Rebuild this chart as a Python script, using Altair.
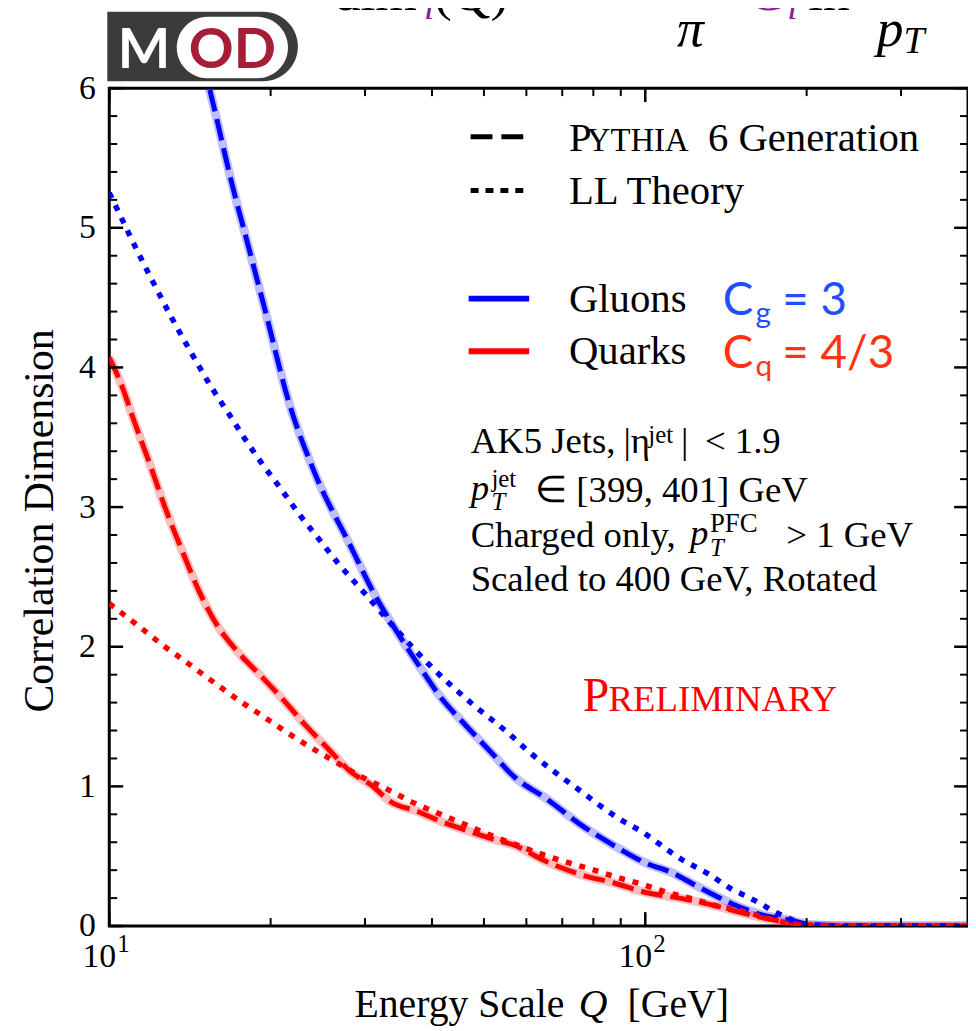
import altair as alt
import pandas as pd

# ---------------- data ----------------
q_gluon_pythia = [14.5, 15.8, 16.9, 18.2, 19.5, 21.6, 24.2, 28.2, 31.3, 34.5, 37.6, 41.5, 45.9, 51.4,
                  56.9, 65.5, 75.5, 87.1, 100.4, 112.5, 124.3, 149.3, 165.2, 184.9, 204.6, 250, 300, 400]
dim_gluon_pythia = [6.4, 5.81, 5.33, 4.86, 4.42, 3.76, 3.24, 2.72, 2.37, 2.10, 1.88, 1.64, 1.45, 1.25,
                    1.07, 0.91, 0.73, 0.58, 0.45, 0.38, 0.29, 0.14, 0.08, 0.045, 0.01, 0, 0, 0]

q_gluon_ll = [10, 10.6, 11.0, 12.0, 13.1, 14.1, 15.5, 16.7, 17.9, 19.2, 21.0, 22.5, 24.5, 26.7, 30.0,
              34.0, 39.8, 47.9, 55.2, 61.0, 67.4, 75.5, 88.4, 99.0, 116.6, 131.6, 145.5, 155.1, 164.1,
              173.8, 184.0, 197.5, 250, 300, 400]
dim_gluon_ll = [5.25, 5.05, 4.92, 4.63, 4.35, 4.13, 3.86, 3.67, 3.49, 3.32, 3.12, 2.96, 2.78, 2.60, 2.38,
                2.14, 1.86, 1.58, 1.39, 1.24, 1.11, 0.97, 0.78, 0.67, 0.48, 0.37, 0.26, 0.21, 0.16,
                0.105, 0.06, 0.01, 0, 0, 0]

q_quark_pythia = [10, 10.6, 11.0, 11.9, 12.7, 13.7, 14.7, 15.8, 17.4, 19.2, 21.0, 23.2, 25.6, 28.3, 30.8,
                  33.5, 37.6, 41.5, 45.9, 52.2, 56.8, 65.5, 75.5, 87.1, 100.4, 115.8, 133.5, 149.6, 165.2,
                  187.9, 198.9, 250, 300, 400]
dim_quark_pythia = [4.07, 3.85, 3.67, 3.31, 3.0, 2.68, 2.40, 2.17, 1.96, 1.79, 1.63, 1.44, 1.27, 1.10, 1.01,
                    0.89, 0.82, 0.75, 0.69, 0.62, 0.58, 0.46, 0.37, 0.31, 0.24, 0.20, 0.15, 0.10, 0.06,
                    0.02, 0.005, 0, 0, 0]

q_quark_ll = [10, 11.5, 12.7, 13.7, 15.1, 16.0, 17.7, 18.7, 21.0, 23.5, 26.3, 29.5, 32.6, 37.1, 41.5,
              45.9, 50.7, 57.6, 64.6, 72.4, 78.8, 88.4, 100.4, 107.8, 120.9, 137.4, 153.9, 167.7, 180.1,
              193.4, 250, 300, 400]
dim_quark_ll = [2.31, 2.13, 2.00, 1.91, 1.79, 1.72, 1.60, 1.54, 1.41, 1.29, 1.18, 1.07, 0.99, 0.88, 0.80,
                0.73, 0.66, 0.58, 0.51, 0.45, 0.41, 0.35, 0.29, 0.25, 0.20, 0.14, 0.10, 0.06, 0.03,
                0.01, 0, 0, 0]

x_major_ticks = [10, 100]
x_minor_ticks = [20, 30, 40, 50, 60, 70, 80, 90, 200, 300]
x_label_base = ["10", "10"]
x_label_sup = ["1", "2"]
y_major_ticks = [0, 1, 2, 3, 4, 5, 6]
y_minor_ticks = [0.2, 0.4, 0.6, 0.8, 1.2, 1.4, 1.6, 1.8, 2.2, 2.4, 2.6, 2.8, 3.2, 3.4, 3.6, 3.8,
                 4.2, 4.4, 4.6, 4.8, 5.2, 5.4, 5.6, 5.8]

# ---------------- styling ----------------
W, H = 865, 844
SERIF = "Liberation Serif"
SANS = "Lato"
BLUE = "#0000ff"
RED = "#ff0000"
PURPLE = "#8c1c99"
CG_BLUE = "#1f4fff"
CQ_RED = "#ff3311"

xs = alt.Scale(type="log", domain=[10, 400])
ys = alt.Scale(domain=[0, 6])
yaxis = alt.Axis(values=y_major_ticks, labelFont=SERIF, labelFontSize=34, labelColor="black",
                 labelPadding=14, ticks=False, domain=False, grid=False, title=None, format="d")

dummy = pd.DataFrame({"d": [0]})


def frame(q, v):
    return pd.DataFrame({"Q": q, "v": v})


def line_layer(df, color, width, dash=None, opacity=1.0):
    kw = dict(color=color, strokeWidth=width, opacity=opacity, clip=True,
              interpolate="monotone", strokeCap="butt")
    if dash:
        kw["strokeDash"] = dash
    return alt.Chart(df).mark_line(**kw).encode(
        x=alt.X("Q:Q", scale=xs, axis=None),
        y=alt.Y("v:Q", scale=ys, axis=yaxis),
    )


def txt(s, x, y, size, color="black", font=SERIF, style="normal", align="left",
        baseline="alphabetic", angle=0, weight="normal"):
    kw = dict(text=s, fontSize=size, font=font, color=color, align=align, baseline=baseline,
              fontStyle=style, fontWeight=weight)
    if angle:
        kw["angle"] = angle
    return alt.Chart(dummy).mark_text(**kw).encode(x=alt.value(x), y=alt.value(y))


def seg(x1, x2, y, color, width, dash=None):
    kw = dict(color=color, strokeWidth=width, strokeCap="butt")
    if dash:
        kw["strokeDash"] = dash
    return alt.Chart(dummy).mark_rule(**kw).encode(x=alt.value(x1), x2=alt.value(x2), y=alt.value(y))


gpy = frame(q_gluon_pythia, dim_gluon_pythia)
gll = frame(q_gluon_ll, dim_gluon_ll)
qpy = frame(q_quark_pythia, dim_quark_pythia)
qll = frame(q_quark_ll, dim_quark_ll)

layers = [
    line_layer(gpy, BLUE, 9, opacity=0.25),
    line_layer(qpy, RED, 9, opacity=0.25),
    line_layer(gpy, BLUE, 5, dash=[22, 8]),
    line_layer(qpy, RED, 5, dash=[22, 8]),
    line_layer(gll, BLUE, 5.5, dash=[6, 8]),
    line_layer(qll, RED, 5.5, dash=[6, 8]),
]

# inward ticks on all four sides
xmaj = pd.DataFrame({"Q": x_major_ticks})
xmin = pd.DataFrame({"Q": x_minor_ticks})
ymaj = pd.DataFrame({"v": y_major_ticks})
ymin = pd.DataFrame({"v": y_minor_ticks})
for df, ln, sw in [(xmaj, 14, 2.5), (xmin, 8, 2)]:
    base = alt.Chart(df).mark_rule(color="black", strokeWidth=sw)
    layers.append(base.encode(x=alt.X("Q:Q", scale=xs, axis=None), y=alt.value(H), y2=alt.value(H - ln)))
    layers.append(base.encode(x=alt.X("Q:Q", scale=xs, axis=None), y=alt.value(0), y2=alt.value(ln)))
for df, ln, sw in [(ymaj, 14, 2.5), (ymin, 8, 2)]:
    base = alt.Chart(df).mark_rule(color="black", strokeWidth=sw)
    layers.append(base.encode(y=alt.Y("v:Q", scale=ys, axis=yaxis), x=alt.value(0), x2=alt.value(ln)))
    layers.append(base.encode(y=alt.Y("v:Q", scale=ys, axis=yaxis), x=alt.value(W), x2=alt.value(W - ln)))

# x tick labels 10^1, 10^2
xlab = pd.DataFrame({"Q": x_major_ticks, "base": x_label_base, "sup": x_label_sup})
layers.append(alt.Chart(xlab).mark_text(font=SERIF, fontSize=34, align="right", baseline="alphabetic",
                                        dx=7, color="black").encode(
    x=alt.X("Q:Q", scale=xs, axis=None), y=alt.value(H + 41), text="base:N"))
layers.append(alt.Chart(xlab).mark_text(font=SERIF, fontSize=25, align="left", baseline="alphabetic",
                                        dx=8, color="black").encode(
    x=alt.X("Q:Q", scale=xs, axis=None), y=alt.value(H + 26), text="sup:N"))

# axis titles
layers += [
    txt("Energy Scale", 247, 936, 40),
    txt("Q", 473, 936, 40, style="italic"),
    txt("[GeV]", 522, 936, 40),
    txt("Correlation Dimension", -57, 436, 42, align="center", angle=270),
]

# legend
layers += [
    seg(364, 418, 49, "black", 5, dash=[22, 9]),
    seg(364, 418, 103, "black", 5, dash=[8, 7]),
    seg(362, 423, 212, BLUE, 6),
    seg(362, 423, 265, RED, 6),
    txt("P", 463, 63, 41),
    txt("YTHIA", 481, 63, 33),
    txt("6 Generation", 603, 63, 41),
    txt("LL Theory", 463, 117, 41),
    txt("Gluons", 463, 225, 41),
    txt("Quarks", 463, 278, 41),
    txt("C", 618, 229, 46, color=CG_BLUE, font=SANS),
    txt("g", 651, 237, 30, color=CG_BLUE, font=SANS),
    txt("= 3", 678, 229, 46, color=CG_BLUE, font=SANS),
    txt("C", 618, 282, 46, color=CQ_RED, font=SANS),
    txt("q", 651, 290, 30, color=CQ_RED, font=SANS),
    txt("= 4/3", 678, 282, 46, color=CQ_RED, font=SANS),
]

# annotation block
layers += [
    txt("AK5 Jets,", 364, 368, 37),
    txt("|η", 518, 368, 37),
    txt("jet", 543, 357, 25),
    txt("|", 576, 368, 37),
    txt("< 1.9", 600, 368, 37),
    txt("p", 364, 415, 37, style="italic"),
    txt("jet", 385, 402, 25),
    txt("T", 385, 425, 25, style="italic"),
    txt("∈ [399, 401] GeV", 429, 417, 37),
    txt("Charged only,", 364, 462, 37),
    txt("p", 585, 460, 37, style="italic"),
    txt("PFC", 605, 447, 27),
    txt("T", 605, 471, 25, style="italic"),
    txt("> 1 GeV", 682, 462, 37),
    txt("Scaled to 400 GeV, Rotated", 364, 507, 37),
    txt("P", 477, 627, 48, color=RED),
    txt("RELIMINARY", 503, 627, 37, color=RED),
]

# MOD logo
layers += [
    alt.Chart(dummy).mark_rect(color="#3b3c3a", cornerRadiusTopRight=35, cornerRadiusBottomRight=35).encode(
        x=alt.value(-2), x2=alt.value(190), y=alt.value(-77), y2=alt.value(-7)),
    alt.Chart(dummy).mark_rect(color="white", cornerRadius=31).encode(
        x=alt.value(68), x2=alt.value(180), y=alt.value(-72), y2=alt.value(-10)),
    txt("M", 35, -20, 56, color="white", font=SANS, align="center", weight="bold"),
    txt("OD", 124, -20, 56, color="#a51e36", font=SANS, align="center", weight="bold"),
]

# partially visible formula at the top
layers += [
    txt("dim", 226, -79, 54),
    txt("i", 317, -70, 38, color=PURPLE, style="italic"),
    txt("(Q) =", 327, -79, 54),
    txt("π", 572, -42, 54, style="italic"),
    txt("C", 645, -79, 54, color=PURPLE, style="italic"),
    txt("i", 683, -70, 38, color=PURPLE, style="italic"),
    txt("ln", 704, -79, 54),
    txt("p", 773, -42, 54, style="italic"),
    txt("T", 800, -35, 38, style="italic"),
]

chart = alt.layer(*layers).properties(
    width=W, height=H,
    autosize=alt.AutoSizeParams(type="none"),
    padding={"left": 102, "top": 77, "right": 0, "bottom": 102},
).configure_view(stroke="black", strokeWidth=3)

chart.save("out.html", embed_options={"renderer": "svg", "actions": False})
